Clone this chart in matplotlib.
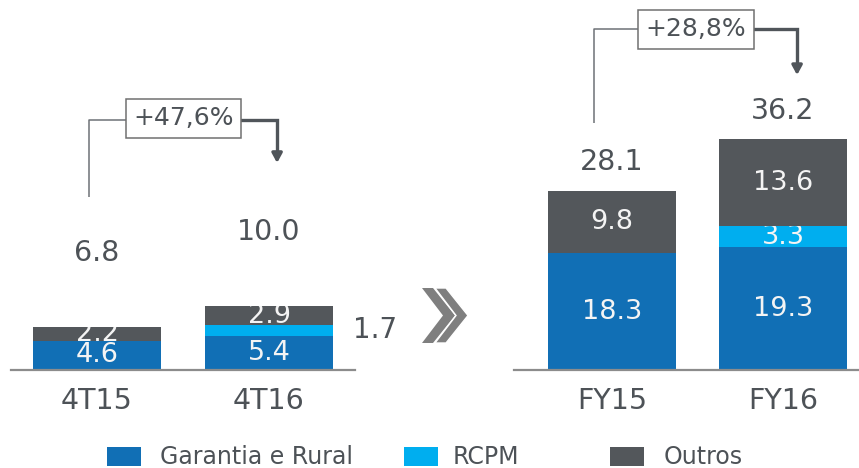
import matplotlib.pyplot as plt
from matplotlib.patches import Polygon, Rectangle

# data
cats_q = ["4T15", "4T16"]
garantia_q = [4.6, 5.4]
rcpm_q = [0.0, 1.7]
outros_q = [2.2, 2.9]
total_q = [6.8, 10.0]

cats_fy = ["FY15", "FY16"]
garantia_fy = [18.3, 19.3]
rcpm_fy = [0.0, 3.3]
outros_fy = [9.8, 13.6]
total_fy = [28.1, 36.2]

growth = ["+47,6%", "+28,8%"]
legend_labels = ["Garantia e Rural", "RCPM", "Outros"]

BLUE = "#116fb5"
CYAN = "#00aeef"
GRAY = "#53575b"
TXT = "#4d5257"
colors = [BLUE, CYAN, GRAY]

W, H = 859, 468
PX = 6.37  # pixels per unit on y
plt.rcParams["font.family"] = "DejaVu Sans"

fig = plt.figure(figsize=(W / 100, H / 100), dpi=100)


def fxy(x, y):
    return (x / W, 1 - y / H)


ax_q = fig.add_axes([11 / W, 98 / H, 344 / W, 370 / H])
ax_fy = fig.add_axes([514 / W, 98 / H, 345 / W, 370 / H])


def draw_group(ax, cats, segs, totals, xlim, top_off, outside_small):
    ax.set_xlim(*xlim)
    ax.set_ylim(0, 370 / PX)
    ax.patch.set_alpha(0)
    for s in ["left", "right", "top"]:
        ax.spines[s].set_visible(False)
    ax.spines["bottom"].set_color("#8c8c8c")
    ax.spines["bottom"].set_linewidth(1.6)
    ax.set_xticks([])
    ax.set_yticks([])

    x = list(range(len(cats)))
    bottom = [0.0] * len(cats)
    for k, vals in enumerate(segs):
        bars = ax.bar(x, vals, 0.745, bottom=bottom, color=colors[k], linewidth=0)
        for i, (v, rect) in enumerate(zip(vals, bars)):
            if v <= 0:
                continue
            yc = bottom[i] + v / 2
            if outside_small and k == 1:
                ax.annotate(f"{v:.1f}", xy=(i + 0.3725, yc), xytext=(14, 0),
                            textcoords="offset points", ha="left", va="center",
                            fontsize=20, color=TXT, annotation_clip=False)
            else:
                t = ax.text(i, yc, f"{v:.1f}", ha="center", va="center",
                            fontsize=19.5, color="#f4f4f4", clip_on=True)
                t.set_clip_path(rect)
        bottom = [b + v for b, v in zip(bottom, vals)]

    for i, tot in enumerate(totals):
        ax.text(i, tot + top_off, f"{tot:.1f}", ha="center", va="center",
                fontsize=20.5, color=TXT, clip_on=False)

    for i, c in enumerate(cats):
        ax.annotate(c, xy=(i, 0), xytext=(0, -22), textcoords="offset points",
                    ha="center", va="center", fontsize=20.5, color=TXT,
                    annotation_clip=False)


def bracket(ax, label, x0, y0, y1, xb, yb, x1, ytip):
    ax.plot([x0, x0, xb], [y0, y1, y1], color="#6d7277", lw=1.1,
            solid_capstyle="butt", clip_on=False)
    ax.plot([xb, x1, x1], [y1, y1, ytip + 1.2], color="#50555a", lw=2.4,
            solid_joinstyle="miter", clip_on=False)
    ax.annotate("", xy=(x1, ytip), xytext=(x1, ytip + 1.5),
                arrowprops=dict(arrowstyle="-|>,head_length=0.55,head_width=0.3",
                                color="#50555a", lw=2.4, shrinkA=0, shrinkB=0),
                annotation_clip=False)
    ax.text(xb, yb, label, ha="center", va="center", fontsize=18, color=TXT,
            clip_on=False, zorder=5,
            bbox=dict(boxstyle="square,pad=0.3", fc="white", ec="#707070", lw=1.1))


draw_group(ax_q, cats_q, [garantia_q, rcpm_q, outros_q], total_q,
           (-0.5, 1.5), 11.6, True)
draw_group(ax_fy, cats_fy, [garantia_fy, rcpm_fy, outros_fy], total_fy,
           (-0.573, 1.444), 4.5, False)

bracket(ax_q, growth[0], -0.047, 27.2, 39.2, 0.503, 39.5, 1.047, 32.5)
bracket(ax_fy, growth[1], -0.105, 38.8, 53.5, 0.491, 53.5, 1.082, 46.3)

# chevrons between the groups
for dx, ec in [(0, "none"), (13, "white")]:
    pts = [(422 + dx, 288), (433 + dx, 288), (455 + dx, 315.5),
           (433 + dx, 343), (422 + dx, 343), (443 + dx, 315.5)]
    fig.patches.append(Polygon([fxy(*p) for p in pts], closed=True,
                               transform=fig.transFigure, fc="#7f7f7f",
                               ec=ec, lw=1.0))

# legend
sq_x = [107, 404, 610]
txt_x = [160, 453, 664]
for lab, c, sx, tx in zip(legend_labels, colors, sq_x, txt_x):
    x0, y0 = fxy(sx, 466)
    fig.patches.append(Rectangle((x0, y0), 34 / W, 19 / H,
                                 transform=fig.transFigure, fc=c, ec="none"))
    fig.text(*fxy(tx, 457), lab, ha="left", va="center", fontsize=17, color=TXT)

fig.savefig("out.png", dpi=100)
